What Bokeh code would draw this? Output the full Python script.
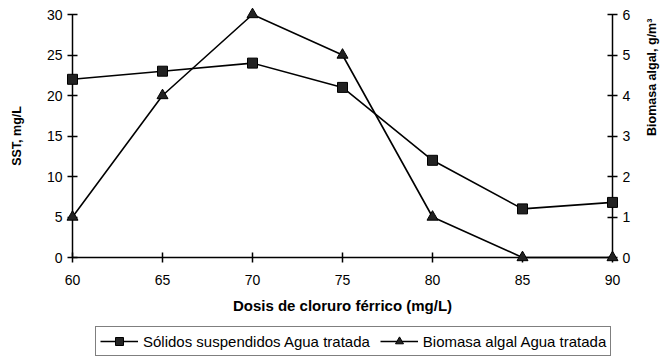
import math
from bokeh.plotting import figure
from bokeh.layouts import column
from bokeh.models import Range1d, LinearAxis, Legend, LegendItem, FixedTicker
from bokeh.embed import file_html
from bokeh.resources import INLINE

dose = [60, 65, 70, 75, 80, 85, 90]
sst = [22, 23, 24, 21, 12, 6, 6.8]
biomasa = [1, 4, 6, 5, 1, 0, 0]
x_ticks = [60, 65, 70, 75, 80, 85, 90]
sst_ticks = [0, 5, 10, 15, 20, 25, 30]
bio_ticks = [0, 1, 2, 3, 4, 5, 6]
series_names = ["Sólidos suspendidos Agua tratada", "Biomasa algal Agua tratada"]

FONT = "Liberation Sans"
W = 669

p = figure(width=W, height=316, output_backend="svg", toolbar_location=None,
           x_range=Range1d(60, 90), y_range=Range1d(0, 30),
           min_border_left=72, min_border_right=W - 615, min_border_top=14, min_border_bottom=59)
p.extra_y_ranges = {"bio": Range1d(0, 6)}
p.outline_line_color = None
p.xgrid.grid_line_color = None
p.ygrid.grid_line_color = None

p.line(dose, sst, line_color="black", line_width=1.6, level="overlay")
p.scatter(dose, sst, marker="square", size=10, fill_color="#222222", line_color="black", level="overlay")
p.line(dose, biomasa, y_range_name="bio", line_color="black", line_width=1.6, level="overlay")
p.scatter(dose, biomasa, y_range_name="bio", marker="triangle", size=11, fill_color="#222222", line_color="black", level="overlay")

right = LinearAxis(y_range_name="bio")
p.add_layout(right, "right")

def style(ax):
    ax.axis_line_color = "black"
    ax.axis_line_width = 1.5
    ax.major_tick_line_color = "black"
    ax.major_tick_line_width = 1.5
    ax.major_tick_in = 5
    ax.major_tick_out = 5
    ax.minor_tick_line_color = None
    ax.major_label_text_font = FONT
    ax.major_label_text_font_size = "14px"
    ax.major_label_text_color = "black"
    ax.axis_label_text_font = FONT
    ax.axis_label_text_font_size = "12.5px"
    ax.axis_label_text_font_style = "bold"
    ax.axis_label_text_color = "black"

for ax in [p.xaxis[0], p.yaxis[0], right]:
    style(ax)

p.xaxis[0].ticker = FixedTicker(ticks=x_ticks)
p.xaxis[0].axis_label = "Dosis de cloruro férrico (mg/L)"
p.xaxis[0].axis_label_text_font_size = "15px"
p.xaxis[0].major_label_standoff = 12
p.xaxis[0].axis_label_standoff = 9
p.yaxis[0].ticker = FixedTicker(ticks=sst_ticks)
p.yaxis[0].axis_label = "SST, mg/L"
p.yaxis[0].major_label_standoff = 5
p.yaxis[0].axis_label_standoff = 20
right.ticker = FixedTicker(ticks=bio_ticks)
right.axis_label = "Biomasa algal, g/m³"
right.major_label_standoff = 5
right.axis_label_standoff = 19
try:
    right.axis_label_orientation = math.pi / 2
except Exception:
    pass

# legend strip below the chart
lg = figure(width=W, height=42, output_backend="svg", toolbar_location=None,
            x_range=Range1d(0, 1), y_range=Range1d(0, 1),
            min_border_left=72, min_border_right=W - 615, min_border_top=0, min_border_bottom=0)
lg.axis.visible = False
lg.grid.grid_line_color = None
lg.outline_line_color = None
r1 = lg.line([-5, -4], [-5, -5], line_color="black", line_width=1.6)
m1 = lg.scatter([-5], [-5], marker="square", size=10, fill_color="#222222", line_color="black")
r2 = lg.line([-5, -4], [-5, -5], line_color="black", line_width=1.6)
m2 = lg.scatter([-5], [-5], marker="triangle", size=11, fill_color="#222222", line_color="black")

legend = Legend(items=[
    LegendItem(label=series_names[0], renderers=[r1, m1]),
    LegendItem(label=series_names[1], renderers=[r2, m2]),
], orientation="horizontal")
legend.border_line_color = "black"
legend.border_line_width = 1
legend.label_text_font = FONT
legend.label_text_font_size = "15px"
legend.label_text_color = "black"
legend.glyph_width = 38
legend.glyph_height = 20
legend.spacing = 10
legend.padding = 4
legend.margin = 0
legend.label_standoff = 5
legend.location = (23, 2)
lg.add_layout(legend)

layout = column(p, lg, spacing=0)
open("out.html", "w").write(file_html(layout, INLINE))
